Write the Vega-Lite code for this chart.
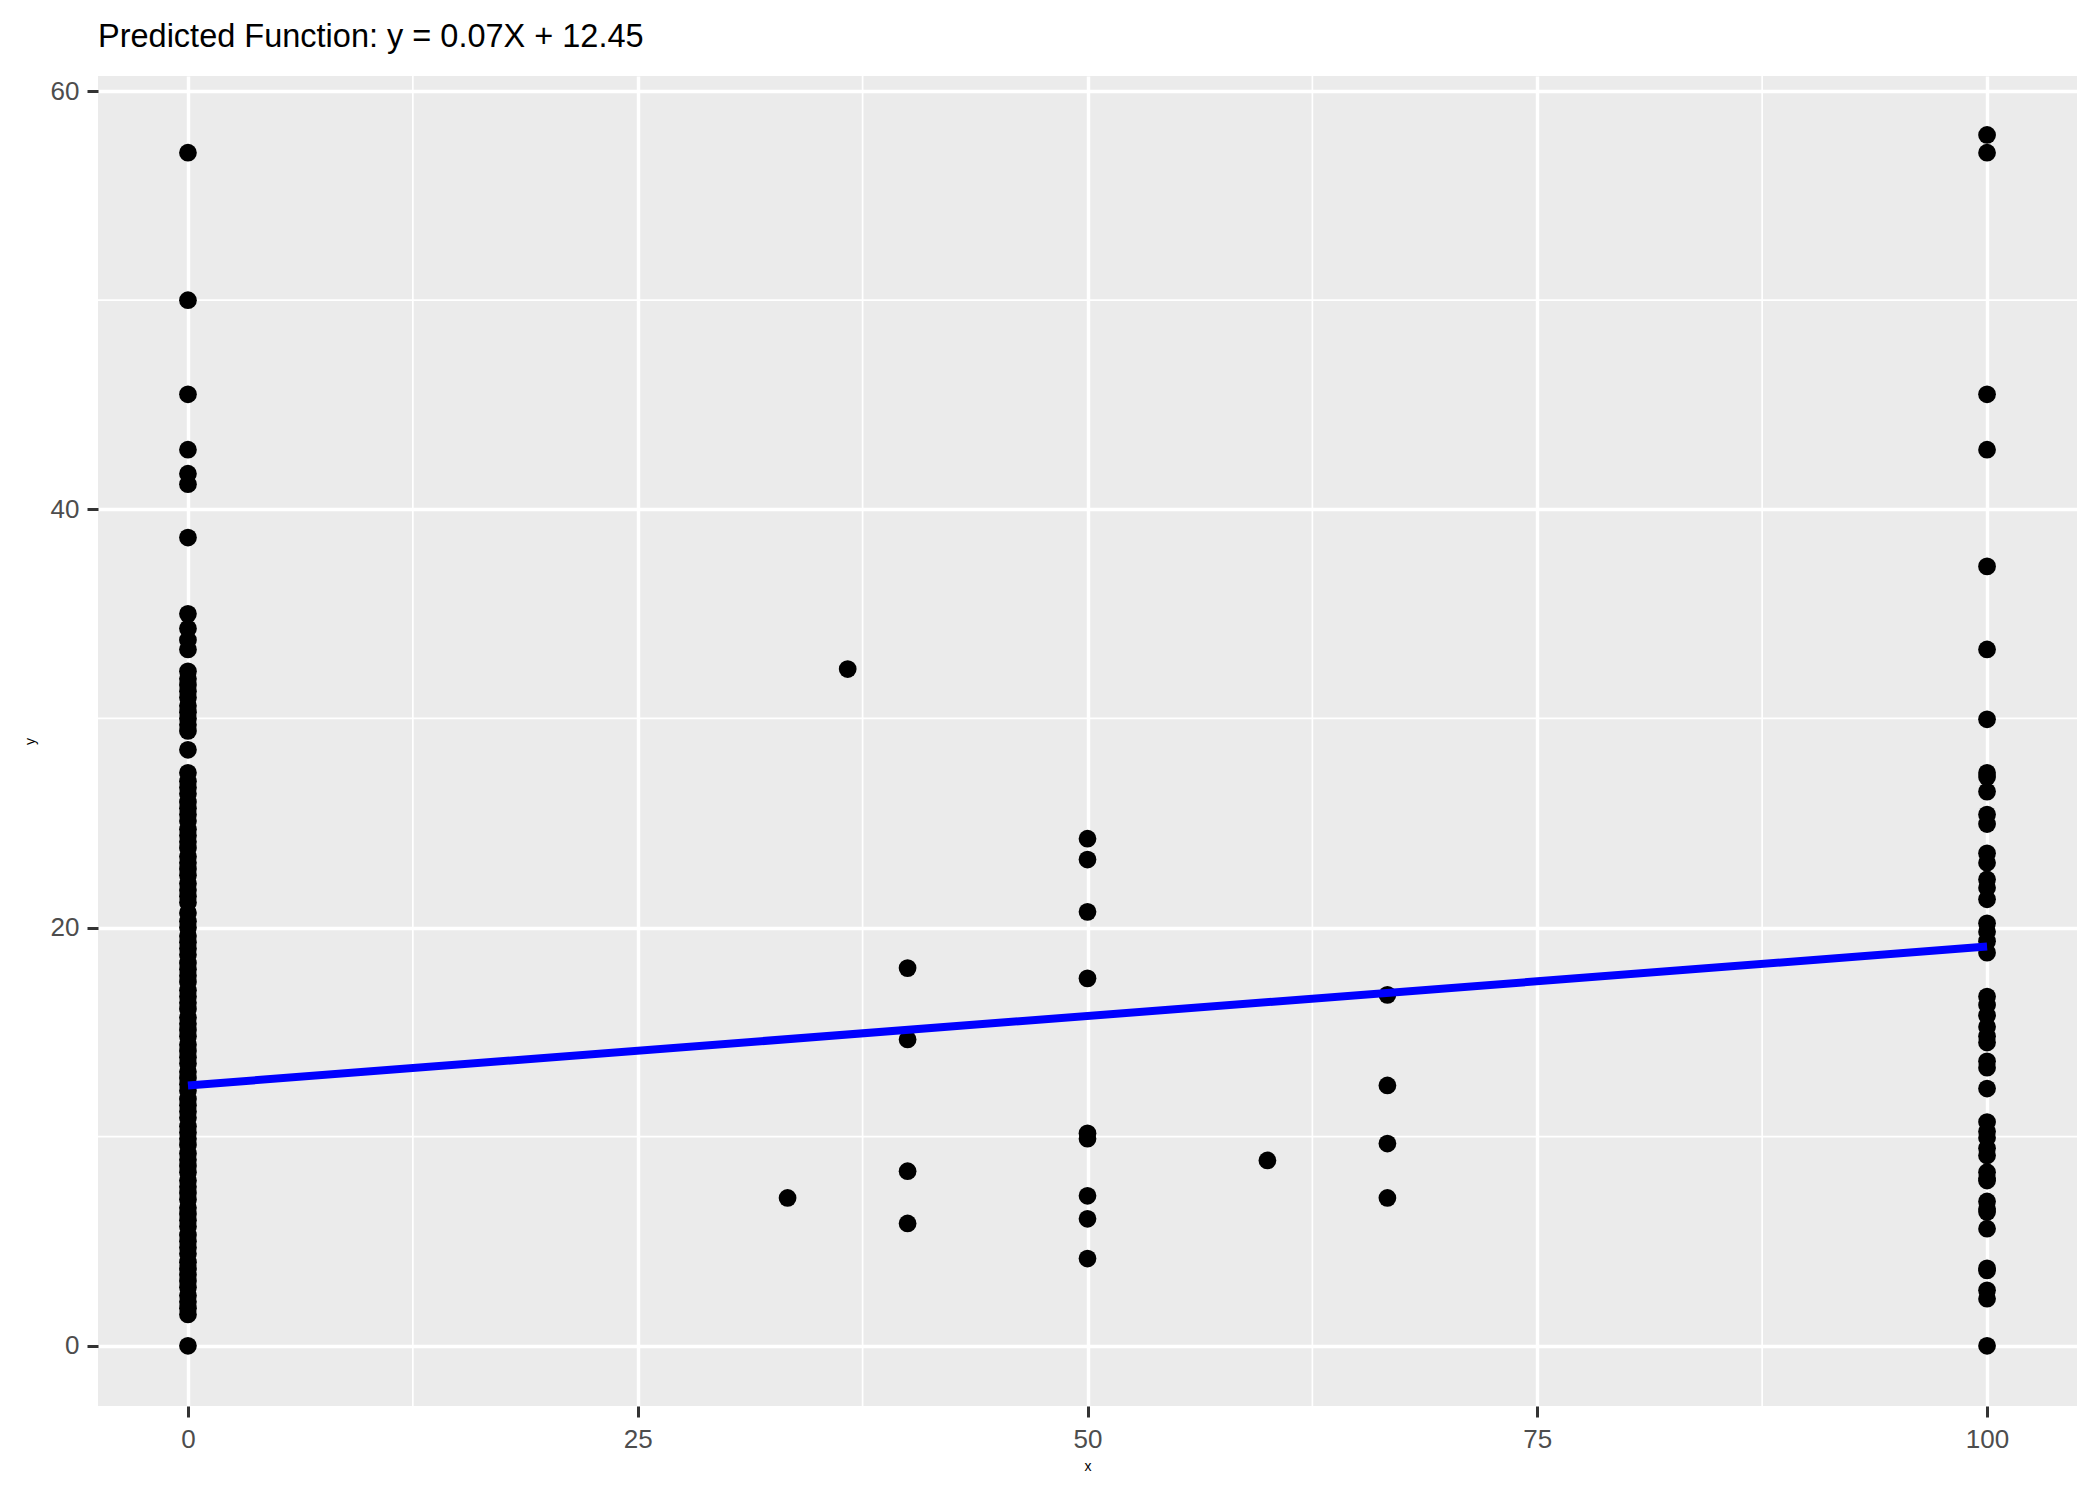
{
  "$schema": "https://vega.github.io/schema/vega-lite/v6.json",
  "width": 1979,
  "height": 1330,
  "autosize": "none",
  "padding": {"left": 98, "top": 76, "right": 23, "bottom": 93},
  "background": "white",
  "title": {"text": "Predicted Function: y = 0.07X + 12.45", "anchor": "start", "frame": "group", "fontSize": 32.5, "fontWeight": "normal", "font": "Liberation Sans", "color": "#000000", "baseline": "alphabetic", "offset": -4},
  "config": {
    "view": {"fill": "#EBEBEB", "stroke": null},
    "axis": {"labelFont": "Liberation Sans", "titleFont": "Liberation Sans", "labelColor": "#4D4D4D", "labelFontSize": 26, "tickColor": "#333333", "tickSize": 11, "tickWidth": 3, "domain": false, "gridColor": "#FFFFFF", "gridWidth": 3.4, "titleFontSize": 14, "titleFontWeight": "normal", "titleColor": "#000000"}
  },
  "datasets": {
    "pts": [
      {"x": 0, "y": 0}, {"x": 0, "y": 1.5}, {"x": 0, "y": 1.8}, {"x": 0, "y": 2.1}, {"x": 0, "y": 2.4}, {"x": 0, "y": 2.8}, {"x": 0, "y": 3.1}, {"x": 0, "y": 3.4}, {"x": 0, "y": 3.7}, {"x": 0, "y": 4.0}, {"x": 0, "y": 4.4}, {"x": 0, "y": 4.7}, {"x": 0, "y": 5.0}, {"x": 0, "y": 5.3}, {"x": 0, "y": 5.7}, {"x": 0, "y": 6.0}, {"x": 0, "y": 6.3}, {"x": 0, "y": 6.6}, {"x": 0, "y": 7.0}, {"x": 0, "y": 7.3}, {"x": 0, "y": 7.6}, {"x": 0, "y": 7.9}, {"x": 0, "y": 8.3}, {"x": 0, "y": 8.6}, {"x": 0, "y": 8.9}, {"x": 0, "y": 9.2}, {"x": 0, "y": 9.6}, {"x": 0, "y": 9.9}, {"x": 0, "y": 10.2}, {"x": 0, "y": 10.5}, {"x": 0, "y": 10.9}, {"x": 0, "y": 11.2}, {"x": 0, "y": 11.5}, {"x": 0, "y": 11.8}, {"x": 0, "y": 12.2}, {"x": 0, "y": 12.5}, {"x": 0, "y": 12.8}, {"x": 0, "y": 13.1}, {"x": 0, "y": 13.5}, {"x": 0, "y": 13.8}, {"x": 0, "y": 14.1}, {"x": 0, "y": 14.4}, {"x": 0, "y": 14.8}, {"x": 0, "y": 15.1}, {"x": 0, "y": 15.4}, {"x": 0, "y": 15.7}, {"x": 0, "y": 16.1}, {"x": 0, "y": 16.4}, {"x": 0, "y": 16.7}, {"x": 0, "y": 17.0}, {"x": 0, "y": 17.4}, {"x": 0, "y": 17.7}, {"x": 0, "y": 18.0}, {"x": 0, "y": 18.3}, {"x": 0, "y": 18.7}, {"x": 0, "y": 19.0}, {"x": 0, "y": 19.3}, {"x": 0, "y": 19.6}, {"x": 0, "y": 20.0}, {"x": 0, "y": 20.3}, {"x": 0, "y": 20.7}, {"x": 0, "y": 21.2}, {"x": 0, "y": 21.5}, {"x": 0, "y": 21.8}, {"x": 0, "y": 22.1}, {"x": 0, "y": 22.5}, {"x": 0, "y": 22.8}, {"x": 0, "y": 23.1}, {"x": 0, "y": 23.4}, {"x": 0, "y": 23.8}, {"x": 0, "y": 24.1}, {"x": 0, "y": 24.4}, {"x": 0, "y": 24.7}, {"x": 0, "y": 25.1}, {"x": 0, "y": 25.4}, {"x": 0, "y": 25.7}, {"x": 0, "y": 26.0}, {"x": 0, "y": 26.4}, {"x": 0, "y": 26.7}, {"x": 0, "y": 27.0}, {"x": 0, "y": 27.4}, {"x": 0, "y": 28.5}, {"x": 0, "y": 29.4}, {"x": 0, "y": 29.7}, {"x": 0, "y": 30.0}, {"x": 0, "y": 30.3}, {"x": 0, "y": 30.6}, {"x": 0, "y": 31.0}, {"x": 0, "y": 31.3}, {"x": 0, "y": 31.6}, {"x": 0, "y": 31.9}, {"x": 0, "y": 32.25}, {"x": 0, "y": 33.3}, {"x": 0, "y": 33.75}, {"x": 0, "y": 34.3}, {"x": 0, "y": 35.0}, {"x": 0, "y": 38.65}, {"x": 0, "y": 41.2}, {"x": 0, "y": 41.7}, {"x": 0, "y": 42.85}, {"x": 0, "y": 45.5}, {"x": 0, "y": 50.0}, {"x": 0, "y": 57.05},
      {"x": 33.33, "y": 7.07}, {"x": 36.67, "y": 32.36},
      {"x": 40, "y": 18.06}, {"x": 40, "y": 14.65}, {"x": 40, "y": 8.35}, {"x": 40, "y": 5.85},
      {"x": 50, "y": 24.25}, {"x": 50, "y": 23.25}, {"x": 50, "y": 20.75}, {"x": 50, "y": 17.57}, {"x": 50, "y": 10.16}, {"x": 50, "y": 9.9}, {"x": 50, "y": 7.17}, {"x": 50, "y": 6.07}, {"x": 50, "y": 4.17},
      {"x": 60, "y": 8.86},
      {"x": 66.67, "y": 16.78}, {"x": 66.67, "y": 12.45}, {"x": 66.67, "y": 9.67}, {"x": 66.67, "y": 7.07},
      {"x": 100, "y": 57.9}, {"x": 100, "y": 57.05}, {"x": 100, "y": 45.5}, {"x": 100, "y": 42.85}, {"x": 100, "y": 37.27}, {"x": 100, "y": 33.3}, {"x": 100, "y": 29.96}, {"x": 100, "y": 27.4}, {"x": 100, "y": 27.2}, {"x": 100, "y": 26.5}, {"x": 100, "y": 25.4}, {"x": 100, "y": 24.95}, {"x": 100, "y": 23.55}, {"x": 100, "y": 23.1}, {"x": 100, "y": 22.3}, {"x": 100, "y": 21.9}, {"x": 100, "y": 21.35}, {"x": 100, "y": 20.2}, {"x": 100, "y": 19.8}, {"x": 100, "y": 19.35}, {"x": 100, "y": 18.8}, {"x": 100, "y": 16.7}, {"x": 100, "y": 16.3}, {"x": 100, "y": 15.8}, {"x": 100, "y": 15.25}, {"x": 100, "y": 14.8}, {"x": 100, "y": 14.5}, {"x": 100, "y": 13.6}, {"x": 100, "y": 13.3}, {"x": 100, "y": 12.3}, {"x": 100, "y": 10.7}, {"x": 100, "y": 10.25}, {"x": 100, "y": 9.95}, {"x": 100, "y": 9.45}, {"x": 100, "y": 9.1}, {"x": 100, "y": 8.3}, {"x": 100, "y": 8.0}, {"x": 100, "y": 7.9}, {"x": 100, "y": 6.9}, {"x": 100, "y": 6.55}, {"x": 100, "y": 6.4}, {"x": 100, "y": 5.6}, {"x": 100, "y": 3.7}, {"x": 100, "y": 3.6}, {"x": 100, "y": 2.65}, {"x": 100, "y": 2.25}, {"x": 100, "y": 0}
    ],
    "fit": [{"x": 0, "y": 12.45}, {"x": 100, "y": 19.09}],
    "vminor": [{"v": 12.5}, {"v": 37.5}, {"v": 62.5}, {"v": 87.5}],
    "hminor": [{"v": 10}, {"v": 30}, {"v": 50}]
  },
  "layer": [
    {
      "data": {"name": "vminor"},
      "mark": {"type": "rule", "color": "#FFFFFF", "strokeWidth": 1.7},
      "encoding": {"x": {"field": "v", "type": "quantitative", "scale": {"domain": [-5, 105], "nice": false, "zero": false}}}
    },
    {
      "data": {"name": "hminor"},
      "mark": {"type": "rule", "color": "#FFFFFF", "strokeWidth": 1.7},
      "encoding": {"y": {"field": "v", "type": "quantitative", "scale": {"domain": [-2.88, 60.72], "nice": false, "zero": false}}}
    },
    {
      "data": {"name": "pts"},
      "mark": {"type": "circle", "size": 315, "color": "#000000", "opacity": 1},
      "encoding": {
        "x": {"field": "x", "type": "quantitative", "scale": {"domain": [-5, 105], "nice": false, "zero": false},
              "axis": {"values": [0, 25, 50, 75, 100], "title": "x", "labelPadding": 9, "titleX": 989.5, "titleY": 60, "titleBaseline": "middle", "titleAlign": "center"}},
        "y": {"field": "y", "type": "quantitative", "scale": {"domain": [-2.88, 60.72], "nice": false, "zero": false},
              "axis": {"values": [0, 20, 40, 60], "title": "y", "labelPadding": 8, "titleX": -68, "titleY": 665, "titleAngle": 270, "titleBaseline": "middle", "titleAlign": "center"}}
      }
    },
    {
      "data": {"name": "fit"},
      "mark": {"type": "line", "color": "#0000FF", "strokeWidth": 8},
      "encoding": {
        "x": {"field": "x", "type": "quantitative"},
        "y": {"field": "y", "type": "quantitative"}
      }
    }
  ]
}
